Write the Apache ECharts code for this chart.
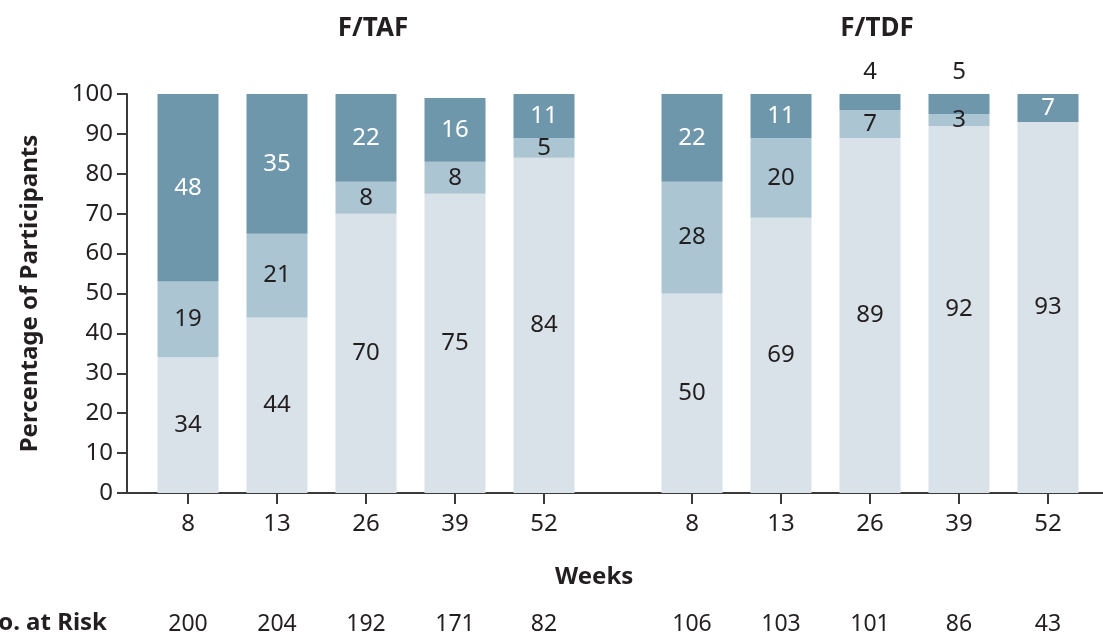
<!DOCTYPE html>
<html>
<head>
<meta charset="utf-8">
<script src="https://cdn.jsdelivr.net/npm/echarts@6/dist/echarts.min.js"></script>
<style>
  html, body { margin: 0; padding: 0; background: #fff; }
  #chart { width: 1103px; height: 641px; }
</style>
</head>
<body>
<div id="chart"></div>
<script>
// Weeks since switch, shared by both panels
const weeks = ['8', '13', '26', '39', '52'];

// F/TAF panel (percent of participants)
const tafLow  = [34, 44, 70, 75, 84];
const tafMid  = [19, 21, 8, 8, 5];
const tafHigh = [48, 35, 22, 16, 11];
const tafAtRisk = ['200', '204', '192', '171', '82'];

// F/TDF panel (percent of participants)
const tdfLow  = [50, 69, 89, 92, 93];
const tdfMid  = [28, 20, 7, 3, 0];
const tdfHigh = [22, 11, 4, 5, 7];
const tdfAtRisk = ['106', '103', '101', '86', '43'];

const yTicks = [0, 10, 20, 30, 40, 50, 60, 70, 80, 90, 100];

const FONT = '"Noto Sans", "Open Sans", sans-serif';
const INK = '#231f20';
const AXIS = '#3a3a3a';
const C_LOW = '#d9e2e8';
const C_MID = '#abc6d2';
const C_HIGH = '#6f97ab';

const GRID_TOP = 94, GRID_BOTTOM = 148;

function catAxis(gridIndex) {
  return {
    type: 'category', gridIndex, data: weeks,
    axisLine: { show: false },
    axisTick: { show: true, alignWithLabel: true, length: 11, lineStyle: { color: AXIS, width: 2 } },
    axisLabel: { color: INK, fontFamily: FONT, fontSize: 24, margin: 19 }
  };
}
function riskAxis(gridIndex, values) {
  return {
    type: 'category', gridIndex, data: values, position: 'bottom', offset: 112,
    axisLine: { show: false }, axisTick: { show: false },
    axisLabel: { color: INK, fontFamily: FONT, fontSize: 23, margin: 8 }
  };
}

function labelStyle(color) {
  return {
    show: true, position: 'inside', color,
    fontFamily: FONT, fontSize: 24,
    formatter: p => (p.value > 0 ? String(p.value) : '')
  };
}

function stackSeries(gi, stack, low, mid, high, highLabelPos) {
  const common = { type: 'bar', stack, xAxisIndex: gi, yAxisIndex: gi, barWidth: 61, clip: true };
  return [
    Object.assign({}, common, { name: 'low', data: low, itemStyle: { color: C_LOW }, label: labelStyle(INK) }),
    Object.assign({}, common, { name: 'mid', data: mid, itemStyle: { color: C_MID }, label: labelStyle(INK) }),
    Object.assign({}, common, {
      name: 'high', itemStyle: { color: C_HIGH }, label: labelStyle('#ffffff'),
      // thin top segments carry their value above the bar
      data: high.map((v, i) => (highLabelPos && highLabelPos[i] === 'top'
        ? { value: v, label: { position: 'top', color: INK, distance: 10 } }
        : { value: v }))
    })
  ];
}

const chart = echarts.init(document.getElementById('chart'), null, { renderer: 'canvas' });

chart.setOption({
  animation: false,
  title: [
    { text: 'F/TAF', left: 368, top: 11, textAlign: 'center',
      textStyle: { fontFamily: FONT, fontWeight: 'bold', fontSize: 26, color: INK } },
    { text: 'F/TDF', left: 872, top: 11, textAlign: 'center',
      textStyle: { fontFamily: FONT, fontWeight: 'bold', fontSize: 26, color: INK } }
  ],
  grid: [
    { left: 143.5, width: 445, top: GRID_TOP, bottom: GRID_BOTTOM },
    { left: 647.5, width: 445, top: GRID_TOP, bottom: GRID_BOTTOM },
    { left: 127, right: 0, top: GRID_TOP, bottom: GRID_BOTTOM }
  ],
  xAxis: [
    catAxis(0), catAxis(1),
    { type: 'value', gridIndex: 2, min: 0, max: 1,
      axisLine: { show: true, lineStyle: { color: AXIS, width: 2 } },
      axisTick: { show: false }, axisLabel: { show: false }, splitLine: { show: false } },
    riskAxis(0, tafAtRisk), riskAxis(1, tdfAtRisk)
  ],
  yAxis: [
    { type: 'value', gridIndex: 0, min: 0, max: 100, interval: 10, offset: 16.5,
      name: 'Percentage of Participants', nameLocation: 'middle', nameGap: 85,
      nameTextStyle: { fontFamily: FONT, fontWeight: 'bold', fontSize: 24, color: INK },
      axisLine: { show: true, lineStyle: { color: AXIS, width: 2 } },
      axisTick: { show: true, length: 10, lineStyle: { color: AXIS, width: 2 } },
      axisLabel: { color: INK, fontFamily: FONT, fontSize: 24, margin: 14,
        formatter: v => (yTicks.indexOf(v) >= 0 ? String(v) : '') },
      splitLine: { show: false } },
    { type: 'value', gridIndex: 1, min: 0, max: 100, interval: 10, show: false },
    { type: 'value', gridIndex: 2, min: 0, max: 1, show: false }
  ],
  graphic: [
    { type: 'text', left: 555, top: 565, style: { text: 'Weeks',
      font: 'bold 24px ' + FONT, fill: INK } },
    { type: 'text', right: 996, top: 611, style: { text: 'No. at Risk',
      font: 'bold 24px ' + FONT, fill: INK } }
  ],
  series: [
    ...stackSeries(0, 'taf', tafLow, tafMid, tafHigh, null),
    ...stackSeries(1, 'tdf', tdfLow, tdfMid, tdfHigh, [null, null, 'top', 'top', null])
  ]
});
</script>
</body>
</html>
